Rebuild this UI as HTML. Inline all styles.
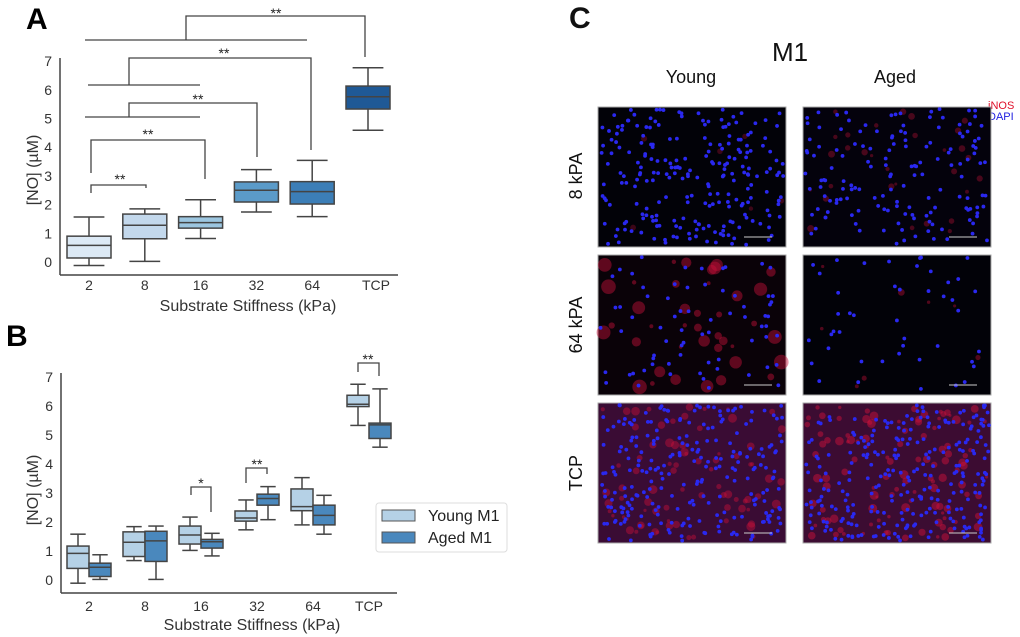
<!DOCTYPE html>
<html><head><meta charset="utf-8"><style>
html,body{margin:0;padding:0;background:#fff;}
svg{display:block;font-family:"Liberation Sans",sans-serif;}
</style></head><body>
<svg id="fig" width="1020" height="637" viewBox="0 0 1020 637">
<g id="panelA"></g>
<g id="panelB"></g>
<g id="panelC"></g>
</svg>
<script>
const NS="http://www.w3.org/2000/svg";
// ---------- data ----------
const categories=["2","8","16","32","64","TCP"];
const yTicks=[0,1,2,3,4,5,6,7];
// Panel A: [low whisker, q1, median, q3, high whisker]
const boxesA=[[-0.12,0.14,0.58,0.9,1.57],[0.02,0.81,1.28,1.67,1.85],[0.82,1.18,1.37,1.58,2.17],[1.74,2.09,2.5,2.79,3.22],[1.58,2.02,2.45,2.8,3.54],[4.59,5.33,5.76,6.13,6.77]];
const colorsA=["#dce9f5","#c3d8ec","#9cc6e0","#5b9bc9","#3c7eb7","#1f5996"];
// Panel B
const youngB=[[-0.11,0.4,0.92,1.17,1.58],[0.67,0.81,1.3,1.66,1.84],[1.02,1.24,1.55,1.86,2.17],[1.73,2.03,2.14,2.38,2.76],[1.9,2.39,2.53,3.14,3.53],[5.33,5.98,6.06,6.37,6.75]];
const agedB=[[0.02,0.12,0.44,0.58,0.87],[0.02,0.64,1.35,1.68,1.86],[0.83,1.1,1.32,1.4,1.61],[2.08,2.58,2.81,2.96,3.22],[1.58,1.9,2.23,2.58,2.92],[4.58,4.88,5.35,5.41,6.59]];
const seriesNames=["Young M1","Aged M1"];

function el(parent,tag,attrs,text){const e=document.createElementNS(NS,tag);for(const k in attrs)e.setAttribute(k,attrs[k]);if(text!==undefined)e.textContent=text;parent.appendChild(e);return e;}

// ---------- Panel A ----------
const A=document.getElementById('panelA');
const ayA=v=>262-v*28.7;
const axA=i=>89+i*55.8;
el(A,'line',{x1:60,y1:58,x2:60,y2:275,stroke:'#444','stroke-width':1.5});
el(A,'line',{x1:60,y1:275,x2:398,y2:275,stroke:'#444','stroke-width':1.5});
yTicks.forEach(t=>{const tx=el(A,'text',{x:52,y:ayA(t)+5,'text-anchor':'end','font-size':14,fill:'#333'},t);});
categories.forEach((c,i)=>{const tx=el(A,'text',{x:axA(i)+(c==='TCP'?8:0),y:290,'text-anchor':'middle','font-size':14,fill:'#333'},c);});
function drawBox(g,d,cx,w,ay,fill,name){
  const b=el(g,'g',{});
  
  
  el(b,'line',{x1:cx,y1:ay(d[0]),x2:cx,y2:ay(d[1]),stroke:'#444','stroke-width':1.5});
  el(b,'line',{x1:cx,y1:ay(d[3]),x2:cx,y2:ay(d[4]),stroke:'#444','stroke-width':1.5});
  el(b,'line',{x1:cx-w*0.35,y1:ay(d[0]),x2:cx+w*0.35,y2:ay(d[0]),stroke:'#444','stroke-width':1.5});
  el(b,'line',{x1:cx-w*0.35,y1:ay(d[4]),x2:cx+w*0.35,y2:ay(d[4]),stroke:'#444','stroke-width':1.5});
  el(b,'rect',{x:cx-w/2,y:ay(d[3]),width:w,height:ay(d[1])-ay(d[3]),fill:fill,stroke:'#444','stroke-width':1.5});
  el(b,'line',{x1:cx-w/2,y1:ay(d[2]),x2:cx+w/2,y2:ay(d[2]),stroke:'#444','stroke-width':1.5});
}
boxesA.forEach((d,i)=>drawBox(A,d,axA(i),44,ayA,colorsA[i],'box-a-'+categories[i]));
const yl=el(A,'text',{x:0,y:0,transform:'translate(38,170) rotate(-90)','text-anchor':'middle','font-size':16,fill:'#333'},'[NO] (µM)');

const xl=el(A,'text',{x:248,y:311,'text-anchor':'middle','font-size':16,fill:'#333'},'Substrate Stiffness (kPa)');

const la=el(A,'text',{x:26,y:29,'font-size':30,'font-weight':'bold',fill:'#000'},'A');

const sigA=[
 {p:'M91,193 V185 H146 V188',s:[120,184]},
 {p:'M91,173 V140 H205 V179',s:[148,139]},
 {p:'M85,117 H200 M129,117 V103 H257 V157',s:[198,104]},
 {p:'M88,85 H200 M129,85 V58 H311 V150',s:[224,58]},
 {p:'M85,40 H307 M186,40 V16 H365 V57',s:[276,18]}
];
sigA.forEach((o,i)=>{
  const p=el(A,'path',{d:o.p,fill:'none',stroke:'#444','stroke-width':1.3});
  
  const t=el(A,'text',{x:o.s[0],y:o.s[1],'text-anchor':'middle','font-size':14,fill:'#222'},'**');
  
});

// ---------- Panel B ----------
const B=document.getElementById('panelB');
const ayB=v=>580-v*29;
const axB=i=>89+i*56;
el(B,'line',{x1:61,y1:373,x2:61,y2:593,stroke:'#444','stroke-width':1.5});
el(B,'line',{x1:61,y1:593,x2:397,y2:593,stroke:'#444','stroke-width':1.5});
yTicks.forEach(t=>{const tx=el(B,'text',{x:53,y:ayB(t)+5,'text-anchor':'end','font-size':14,fill:'#333'},t);});
categories.forEach((c,i)=>{const tx=el(B,'text',{x:axB(i),y:611,'text-anchor':'middle','font-size':14,fill:'#333'},c);});
youngB.forEach((d,i)=>drawBox(B,d,axB(i)-11,22,ayB,'#b5d1e6','box-young-'+categories[i]));
agedB.forEach((d,i)=>drawBox(B,d,axB(i)+11,22,ayB,'#4a88bd','box-aged-'+categories[i]));
const yl2=el(B,'text',{x:0,y:0,transform:'translate(38,490) rotate(-90)','text-anchor':'middle','font-size':16,fill:'#333'},'[NO] (µM)');

const xl2=el(B,'text',{x:252,y:630,'text-anchor':'middle','font-size':16,fill:'#333'},'Substrate Stiffness  (kPa)');

const lb=el(B,'text',{x:6,y:346,'font-size':30,'font-weight':'bold',fill:'#000'},'B');

const sigB=[
 {p:'M191,495 V487 H211 V512',s:[201,488],t:'*'},
 {p:'M246,483 V468 H267 V474',s:[257,469],t:'**'},
 {p:'M358,372 V363 H379 V376',s:[368,364],t:'**'}
];
sigB.forEach(o=>{
  const p=el(B,'path',{d:o.p,fill:'none',stroke:'#444','stroke-width':1.3});
  
  const t=el(B,'text',{x:o.s[0],y:o.s[1],'text-anchor':'middle','font-size':14,fill:'#222'},o.t);
  
});
const leg=el(B,'g',{});

el(leg,'rect',{x:376,y:503,width:131,height:49,rx:3,fill:'#fff',stroke:'#ddd'});
[['#b5d1e6',seriesNames[0],510],['#4a88bd',seriesNames[1],532]].forEach(([c,n,y])=>{
  const e=el(leg,'g',{});
  
  el(e,'rect',{x:382,y:y,width:33,height:11,fill:c,stroke:'#555','stroke-width':1});
  el(e,'text',{x:428,y:y+11,'font-size':16,fill:'#222'},n);
});

// ---------- Panel C ----------
const C=document.getElementById('panelC');
const tC=[['C',569,28,30,'bold','start','panel-label-c'],['M1',790,61,26,'normal','middle','title-m1'],['Young',691,83,18,'normal','middle','column-label-young'],['Aged',895,83,18,'normal','middle','column-label-aged']];
tC.forEach(a=>{const t=el(C,'text',{x:a[1],y:a[2],'font-size':a[3],'font-weight':a[4],'text-anchor':a[5],fill:'#111'},a[0]);});
const t1=el(C,'text',{x:988,y:109,'font-size':11,fill:'#e0102a'},'iNOS');
const t2=el(C,'text',{x:988,y:120,'font-size':11,fill:'#2020e0'},'DAPI');
[['8 kPA',176],['64 kPA',325],['TCP',473]].forEach(([s,y])=>{const t=el(C,'text',{x:0,y:0,transform:`translate(582,${y}) rotate(-90)`,'text-anchor':'middle','font-size':18,fill:'#111'},s);});
let seed=12345;function rnd(){seed=(seed*1103515245+12345)%2147483648;return seed/2147483648;}
const cols=[598,803],rows=[107,255,403],W=188,H=140;
// decorative micrograph textures: [bg, nBlue, nRed, redSize, redOpacity]
const imgs=[[['#020208',230,6,2,0.3],['#04020c',150,30,2,0.35]],[['#0a0208',70,40,6,0.45],['#020208',45,8,2,0.4]],[['#3a0c34',240,80,3,0.45],['#3c0c32',260,110,3,0.5]]];
rows.forEach((ry,r)=>cols.forEach((cx,c)=>{
  const g=el(C,'g',{});
  
  
  const cfg=imgs[r][c];
  el(g,'rect',{x:cx,y:ry,width:W,height:H,fill:cfg[0],stroke:'#aaa','stroke-width':1});
  for(let k=0;k<cfg[2];k++)el(g,'circle',{cx:cx+4+rnd()*(W-8),cy:ry+4+rnd()*(H-8),r:1.5+rnd()*cfg[3],fill:'#c8103a',opacity:cfg[4]});
  for(let k=0;k<cfg[1];k++)el(g,'circle',{cx:cx+2+rnd()*(W-4),cy:ry+2+rnd()*(H-4),r:1.9,fill:'#2a28f0'});
  el(g,'line',{x1:cx+W-42,y1:ry+H-10,x2:cx+W-14,y2:ry+H-10,stroke:'#ccc','stroke-width':1});
}));
</script>
</body></html>
